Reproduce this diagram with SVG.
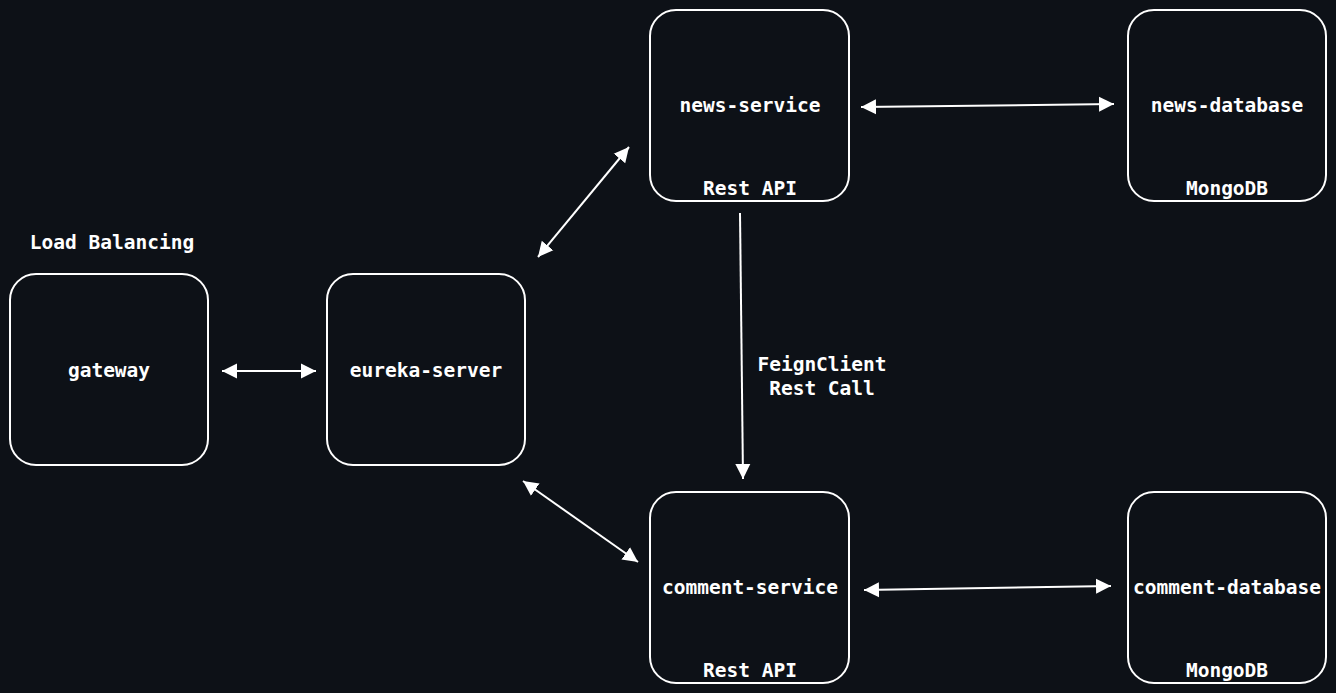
<svg xmlns="http://www.w3.org/2000/svg" width="1336" height="693" viewBox="0 0 1336 693">
<defs>
<marker id="ah" markerUnits="userSpaceOnUse" markerWidth="16" markerHeight="16" refX="15" refY="7.5" orient="auto-start-reverse" viewBox="0 0 16 15">
<path d="M0,0 L15,7.5 L0,15 z" fill="#ffffff"/>
</marker>
<style>
.box{fill:#0d1117;stroke:#ffffff;stroke-width:2}
.t{font-family:"DejaVu Sans Mono","Liberation Mono",monospace;font-weight:bold;font-size:19.5px;fill:#ffffff;text-anchor:middle}
.c{stroke:#ffffff;stroke-width:2;fill:none}
</style>
</defs>
<rect width="1336" height="693" fill="#0d1117"/>
<g id="connectors">
<line class="c" x1="222" y1="371" x2="316" y2="371" marker-start="url(#ah)" marker-end="url(#ah)"/>
<line class="c" x1="861" y1="107" x2="1114" y2="104" marker-start="url(#ah)" marker-end="url(#ah)"/>
<line class="c" x1="538" y1="257" x2="629" y2="147" marker-start="url(#ah)" marker-end="url(#ah)"/>
<line class="c" x1="523" y1="481" x2="638" y2="562" marker-start="url(#ah)" marker-end="url(#ah)"/>
<line class="c" x1="740" y1="213" x2="743" y2="479" marker-end="url(#ah)"/>
<line class="c" x1="864" y1="590" x2="1111" y2="586" marker-start="url(#ah)" marker-end="url(#ah)"/>
<text class="t" x="822" y="371">FeignClient</text>
<text class="t" x="822" y="395">Rest Call</text>
</g>
<g id="gateway">
<text class="t" x="112" y="249">Load Balancing</text>
<rect class="box" x="10" y="274" width="198" height="191" rx="26"/>
<text class="t" x="109" y="377">gateway</text>
</g>
<g id="eureka-server">
<rect class="box" x="327" y="274" width="198" height="191" rx="26"/>
<text class="t" x="426" y="377">eureka-server</text>
</g>
<g id="news-service">
<rect class="box" x="650" y="10" width="199" height="191" rx="26"/>
<text class="t" x="750" y="112">news-service</text>
<text class="t" x="750" y="195">Rest API</text>
</g>
<g id="news-database">
<rect class="box" x="1128" y="10" width="198" height="191" rx="26"/>
<text class="t" x="1227" y="112">news-database</text>
<text class="t" x="1227" y="195">MongoDB</text>
</g>
<g id="comment-service">
<rect class="box" x="650" y="492" width="199" height="191" rx="26"/>
<text class="t" x="750" y="594">comment-service</text>
<text class="t" x="750" y="677">Rest API</text>
</g>
<g id="comment-database">
<rect class="box" x="1128" y="492" width="198" height="191" rx="26"/>
<text class="t" x="1227" y="594">comment-database</text>
<text class="t" x="1227" y="677">MongoDB</text>
</g>
</svg>
